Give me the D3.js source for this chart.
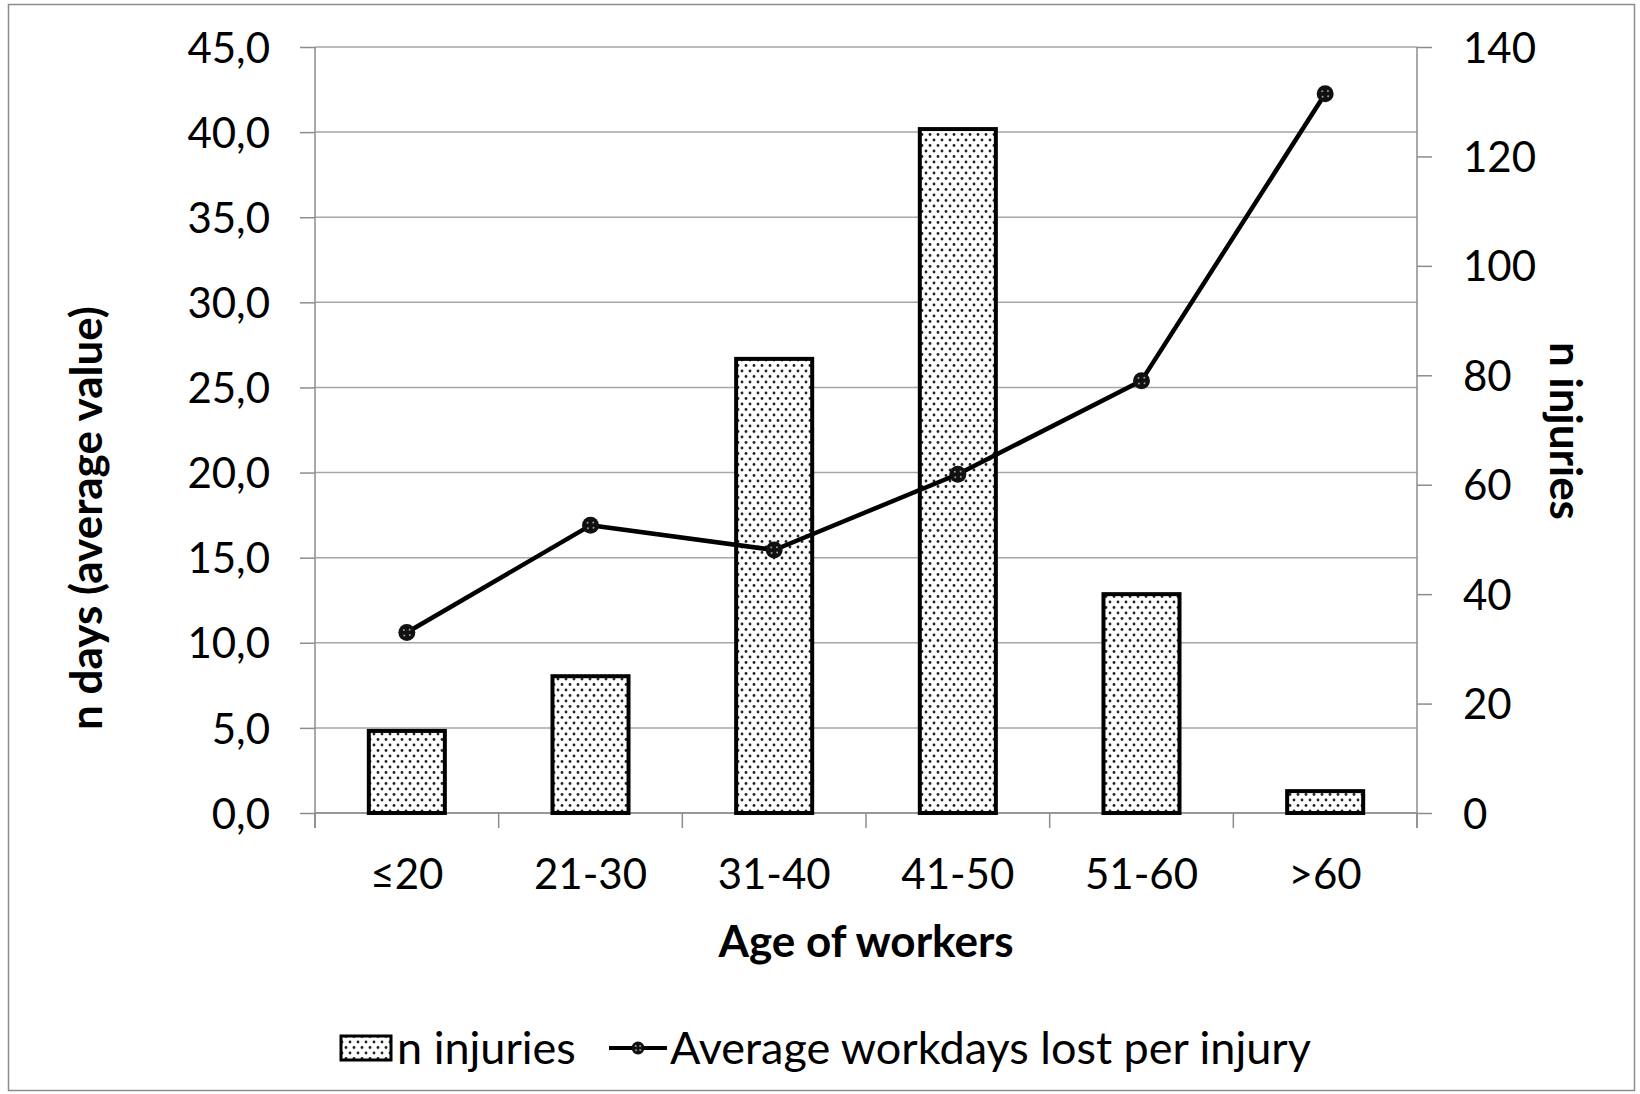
<!DOCTYPE html>
<html>
<head>
<meta charset="utf-8">
<script src="https://cdn.jsdelivr.net/npm/d3@7"></script>
<style>
  html, body { margin: 0; padding: 0; background: #fff; }
  svg { display: block; }
  text { font-family: Lato, "Open Sans", sans-serif; fill: #000; }
</style>
</head>
<body>
<svg id="chart" width="1640" height="1094"></svg>
<script>
// Age groups of workers
const categories = ["≤20", "21-30", "31-40", "41-50", "51-60", ">60"];
// Number of injuries per age group (right axis)
const injuries = [15, 25, 83, 125, 40, 4];
// Average workdays lost per injury (left axis)
const avgDaysLost = [10.6, 16.9, 15.45, 19.9, 25.4, 42.25];
// Axis ticks
const leftTicks = [0, 5, 10, 15, 20, 25, 30, 35, 40, 45];
const rightTicks = [0, 20, 40, 60, 80, 100, 120, 140];

const W = 1640, H = 1094;
const m = { left: 315, right: 1417, top: 47, bottom: 813 };

const svg = d3.select("#chart");

// outer frame
svg.append("rect")
  .attr("x", 8.5).attr("y", 4.5)
  .attr("width", W - 14).attr("height", H - 8)
  .attr("fill", "#fff").attr("stroke", "#8c8c8c").attr("stroke-width", 1.5);

// dotted fill for the bars
const defs = svg.append("defs");
const pat = defs.append("pattern")
  .attr("id", "dots").attr("patternUnits", "userSpaceOnUse")
  .attr("width", 8).attr("height", 11);
pat.append("rect").attr("width", 8).attr("height", 11).attr("fill", "#fff");
pat.append("circle").attr("cx", 2).attr("cy", 2.5).attr("r", 1.4).attr("fill", "#222");
pat.append("circle").attr("cx", 6).attr("cy", 8).attr("r", 1.4).attr("fill", "#222");

const x = d3.scaleBand().domain(categories).range([m.left, m.right]).padding(0);
const yL = d3.scaleLinear().domain([0, 45]).range([m.bottom, m.top]);
const yR = d3.scaleLinear().domain([0, 140]).range([m.bottom, m.top]);

const gridColor = "#a6a6a6";
const axisColor = "#8c8c8c";

// horizontal gridlines
svg.append("g")
  .selectAll("line").data(leftTicks).join("line")
  .attr("x1", m.left).attr("x2", m.right)
  .attr("y1", d => yL(d)).attr("y2", d => yL(d))
  .attr("stroke", gridColor).attr("stroke-width", 1.5);

// left axis
const fmtL = d => d.toFixed(1).replace(".", ",");
const gL = svg.append("g").attr("transform", `translate(${m.left},0)`)
  .call(d3.axisLeft(yL).tickValues(leftTicks).tickFormat(fmtL).tickSize(15).tickPadding(30));
gL.select(".domain").attr("stroke", axisColor).attr("stroke-width", 1.5).attr("d", `M0,${m.top}V${m.bottom + 15}`);
gL.selectAll(".tick line").attr("stroke", axisColor).attr("stroke-width", 1.5);
gL.selectAll(".tick text").style("font-size", "42px").attr("fill", "#000").attr("dy", "0.36em");

// right axis
const gR = svg.append("g").attr("transform", `translate(${m.right},0)`)
  .call(d3.axisRight(yR).tickValues(rightTicks).tickSize(15).tickPadding(31));
gR.select(".domain").attr("stroke", axisColor).attr("stroke-width", 1.5).attr("d", `M0,${m.top}V${m.bottom + 15}`);
gR.selectAll(".tick line").attr("stroke", axisColor).attr("stroke-width", 1.5);
gR.selectAll(".tick text").style("font-size", "42px").attr("fill", "#000").attr("dy", "0.36em");

// bottom axis: ticks on category boundaries
const gB = svg.append("g").attr("transform", `translate(0,${m.bottom})`);
gB.append("line").attr("x1", m.left).attr("x2", m.right)
  .attr("stroke", axisColor).attr("stroke-width", 1.5);
const bounds = categories.map(c => x(c)).concat([x(categories[categories.length - 1]) + x.bandwidth()]);
gB.selectAll(".btick").data(bounds).join("line")
  .attr("x1", d => d).attr("x2", d => d).attr("y1", 0).attr("y2", 15)
  .attr("stroke", axisColor).attr("stroke-width", 1.5);
gB.selectAll(".blabel").data(categories).join("text")
  .attr("x", d => x(d) + x.bandwidth() / 2).attr("y", 61)
  .attr("text-anchor", "middle").attr("dy", "0.36em")
  .style("font-size", "42px").text(d => d);

// bars: injuries
const barW = x.bandwidth() * 0.414;
svg.append("g").selectAll("rect").data(injuries).join("rect")
  .attr("x", (d, i) => x(categories[i]) + x.bandwidth() / 2 - barW / 2)
  .attr("y", d => yR(d))
  .attr("width", barW)
  .attr("height", d => yR(0) - yR(d))
  .attr("fill", "url(#dots)")
  .attr("stroke", "#000").attr("stroke-width", 4);

// line: average workdays lost
const line = d3.line()
  .x((d, i) => x(categories[i]) + x.bandwidth() / 2)
  .y(d => yL(d));
svg.append("path").datum(avgDaysLost)
  .attr("d", line).attr("fill", "none")
  .attr("stroke", "#000").attr("stroke-width", 4.5).attr("stroke-linejoin", "round");

function marker(g, cx, cy, r) {
  g.append("circle").attr("cx", cx).attr("cy", cy).attr("r", r).attr("fill", "#111");
  const k = r / 8;
  [[-2.8, -2.4], [2.6, -2.6], [-2.4, 2.8], [2.8, 2.4]].forEach(([dx, dy]) =>
    g.append("circle").attr("cx", cx + dx * k).attr("cy", cy + dy * k).attr("r", 1).attr("fill", "#9a9a9a"));
}
const mg = svg.append("g");
avgDaysLost.forEach((d, i) => marker(mg, x(categories[i]) + x.bandwidth() / 2, yL(d), 8.5));

// axis titles
svg.append("text")
  .attr("transform", `translate(86,${(m.top + m.bottom) / 2 + 88}) rotate(-90)`)
  .attr("text-anchor", "middle").attr("dy", "0.36em")
  .style("font-size", "44px").style("font-weight", "bold")
  .text("n days (average value)");

svg.append("text")
  .attr("transform", `translate(1566,431) rotate(90)`)
  .attr("text-anchor", "middle").attr("dy", "0.36em")
  .style("font-size", "44px").style("font-weight", "bold")
  .text("n injuries");

svg.append("text")
  .attr("x", (m.left + m.right) / 2).attr("y", 941)
  .attr("text-anchor", "middle").attr("dy", "0.36em")
  .style("font-size", "44px").style("font-weight", "bold")
  .text("Age of workers");

// legend
const lg = svg.append("g");
lg.append("rect").attr("x", 341).attr("y", 1036).attr("width", 50).attr("height", 24)
  .attr("fill", "url(#dots)").attr("stroke", "#000").attr("stroke-width", 3);
lg.append("text").attr("x", 397).attr("y", 1048).attr("dy", "0.36em")
  .style("font-size", "45px").text("n injuries");
lg.append("line").attr("x1", 609).attr("x2", 667).attr("y1", 1048).attr("y2", 1048)
  .attr("stroke", "#000").attr("stroke-width", 4);
marker(lg, 638, 1048, 6.5);
lg.append("text").attr("x", 670).attr("y", 1048).attr("dy", "0.36em")
  .style("font-size", "45px").text("Average workdays lost per injury");
</script>
</body>
</html>
